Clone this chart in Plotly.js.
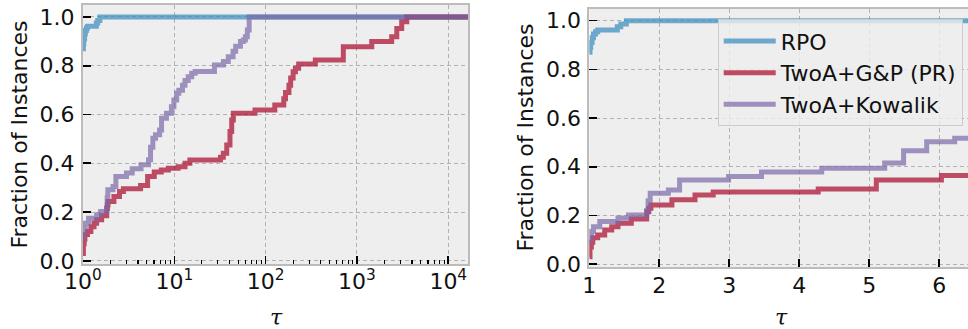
<!DOCTYPE html>
<html>
<head>
<meta charset="utf-8">
<script src="https://cdn.plot.ly/plotly-3.0.1.min.js"></script>
<style>
  html, body { margin: 0; padding: 0; background: #ffffff; overflow: hidden; }
  #chart { width: 968px; height: 329px; }
</style>
</head>
<body>
<div id="chart"></div>
<script>
// ---------------- data ----------------
const SERIES_NAMES = ['RPO', 'TwoA+G&P (PR)', 'TwoA+Kowalik'];

const RPO_TAU  = [1.0, 1.01, 1.02, 1.04, 1.06, 1.09, 1.12, 1.40, 1.45, 1.53, 20000];
const RPO_FRAC = [0.87, 0.89, 0.91, 0.93, 0.945, 0.955, 0.962, 0.975, 0.986, 1.0, 1.0];

const GP_TAU  = [1.0, 1.01, 1.03, 1.05, 1.12, 1.22, 1.32, 1.41, 1.60, 1.82, 1.85, 1.88, 2.18, 2.51, 2.77,
                 4.27, 5.10, 6.03, 7.2, 8.6, 11.0, 13.1, 14.8, 32.0, 34.4, 37.5, 40.7, 42.5, 44.3, 76.5,
                 126, 158, 165, 180, 188, 200, 212, 230, 350, 709, 1452, 2400, 2730, 3090, 3510, 20000];
const GP_FRAC = [0.03, 0.07, 0.09, 0.108, 0.12, 0.14, 0.154, 0.168, 0.185, 0.215, 0.23, 0.243, 0.264, 0.284, 0.296,
                 0.309, 0.346, 0.364, 0.372, 0.38, 0.386, 0.40, 0.414, 0.425, 0.441, 0.475, 0.53, 0.578, 0.605, 0.619,
                 0.639, 0.665, 0.69, 0.72, 0.75, 0.775, 0.79, 0.807, 0.824, 0.878, 0.899, 0.919, 0.953, 0.98, 1.0, 1.0];

const KOW_TAU  = [1.0, 1.01, 1.03, 1.06, 1.15, 1.41, 1.56, 1.82, 1.84, 1.87, 2.13, 2.29, 2.99, 3.46, 4.32,
                  5.22, 5.49, 5.82, 6.22, 6.9, 7.25, 8.2, 9.3, 9.9, 10.6, 11.2, 12.3, 13.1, 14.2, 15.5,
                  16.9, 27.5, 34.5, 39, 44, 47, 53, 57, 60, 63, 66, 20000];
const KOW_FRAC = [0.10, 0.115, 0.134, 0.154, 0.175, 0.189, 0.202, 0.22, 0.26, 0.291, 0.305, 0.346, 0.36, 0.378, 0.394,
                  0.415, 0.466, 0.503, 0.517, 0.537, 0.585, 0.605, 0.632, 0.66, 0.687, 0.70, 0.72, 0.74, 0.755, 0.769,
                  0.776, 0.803, 0.817, 0.837, 0.86, 0.88, 0.899, 0.906, 0.919, 0.947, 1.0, 1.0];

const LOG_TICK_VALS = [1, 10, 100, 1000, 10000];
const LOG_TICK_TEXT = ['10<sup>0</sup>', '10<sup>1</sup>', '10<sup>2</sup>', '10<sup>3</sup>', '10<sup>4</sup>'];
const Y_TITLE = 'Fraction of Instances';
const X_TITLE = '<i>τ</i>';

// ---------------- styling ----------------
const COLORS = ['rgba(52,138,189,0.7)', 'rgba(166,6,40,0.7)', 'rgba(122,104,166,0.7)'];
const FONT = 'DejaVu Sans, Liberation Sans, sans-serif';
const FS = 22;
const LW = 5;

const taus = [RPO_TAU, GP_TAU, KOW_TAU];
const fracs = [RPO_FRAC, GP_FRAC, KOW_FRAC];

const traces = [];
for (let i = 0; i < 3; i++) {
  traces.push({
    x: taus[i], y: fracs[i], xaxis: 'x', yaxis: 'y', type: 'scatter', mode: 'lines',
    line: {color: COLORS[i], width: LW, shape: 'hv'},
    name: SERIES_NAMES[i], showlegend: false, hoverinfo: 'skip'
  });
}
for (let i = 0; i < 3; i++) {
  traces.push({
    x: taus[i], y: fracs[i], xaxis: 'x2', yaxis: 'y2', type: 'scatter', mode: 'lines',
    line: {color: COLORS[i], width: LW, shape: 'hv'},
    name: SERIES_NAMES[i], legendgroup: 'g' + i, showlegend: true, hoverinfo: 'skip'
  });
}

// minor tick positions for the log axis (2..9 of every decade)
const minorVals = [];
for (let d = 1; d <= 10000; d *= 10) for (let k = 2; k <= 9; k++) minorVals.push(d * k);

const W = 968, H = 329;
const px = v => v / W;
const py = v => (H - v) / H;

const common = {
  showline: true, linecolor: '#bcbcbc', linewidth: 2,
  ticks: 'inside', ticklen: 8, tickwidth: 1.6, tickcolor: '#000',
  showgrid: true, gridcolor: '#b2b2b2', gridwidth: 1, griddash: '4px,3px',
  zeroline: false,
  tickfont: {family: FONT, size: FS, color: '#111'}
};

const layout = {
  width: W, height: H,
  margin: {l: 0, r: 0, t: 0, b: 0},
  paper_bgcolor: '#ffffff',
  plot_bgcolor: '#eeeeee',
  font: {family: FONT, size: FS, color: '#111'},
  showlegend: true,
  xaxis: Object.assign({}, common, {
    type: 'log', domain: [px(83), px(468)], range: [0, 4.216],
    tickmode: 'array', tickvals: LOG_TICK_VALS, ticktext: LOG_TICK_TEXT,
    mirror: true, anchor: 'y', ticklabelstandoff: -3,
    minor: {tickmode: 'array', tickvals: minorVals, ticks: 'inside', ticklen: 4, tickwidth: 1.2, tickcolor: '#000', showgrid: false}
  }),
  yaxis: Object.assign({}, common, {
    domain: [py(264), py(4.8)], range: [-0.013, 1.05],
    tickmode: 'linear', tick0: 0, dtick: 0.2, tickformat: '.1f',
    mirror: true, anchor: 'x', ticklabelstandoff: 2
  }),
  xaxis2: Object.assign({}, common, {
    domain: [px(589.3), 1], range: [1, 6.41],
    tickmode: 'linear', tick0: 1, dtick: 1,
    mirror: true, anchor: 'y2', ticklabelstandoff: -3
  }),
  yaxis2: Object.assign({}, common, {
    domain: [py(267.3), py(8.5)], range: [-0.013, 1.05],
    tickmode: 'linear', tick0: 0, dtick: 0.2, tickformat: '.1f',
    mirror: false, anchor: 'x2', ticklabelstandoff: 2
  }),
  legend: {
    x: px(717.7), y: py(19.3), xanchor: 'left', yanchor: 'top',
    bgcolor: 'rgba(238,238,238,0.8)', bordercolor: '#cccccc', borderwidth: 1,
    font: {family: FONT, size: FS, color: '#111'},
    traceorder: 'grouped', tracegroupgap: 0, itemwidth: 52
  },
  annotations: [
    {text: Y_TITLE, xref: 'paper', yref: 'paper', x: px(18.5), y: py(135), textangle: -90,
     showarrow: false, xanchor: 'center', yanchor: 'middle', font: {family: FONT, size: FS, color: '#111'}},
    {text: Y_TITLE, xref: 'paper', yref: 'paper', x: px(525), y: py(137.5), textangle: -90,
     showarrow: false, xanchor: 'center', yanchor: 'middle', font: {family: FONT, size: FS, color: '#111'}},
    {text: X_TITLE, xref: 'paper', yref: 'paper', x: px(276), y: py(317), showarrow: false,
     xanchor: 'center', yanchor: 'middle', font: {family: 'DejaVu Serif, serif', size: FS, color: '#111'}},
    {text: X_TITLE, xref: 'paper', yref: 'paper', x: px(781.7), y: py(317), showarrow: false,
     xanchor: 'center', yanchor: 'middle', font: {family: 'DejaVu Serif, serif', size: FS, color: '#111'}}
  ]
};

Plotly.newPlot('chart', traces, layout, {staticPlot: true, displayModeBar: false});
</script>
</body>
</html>
